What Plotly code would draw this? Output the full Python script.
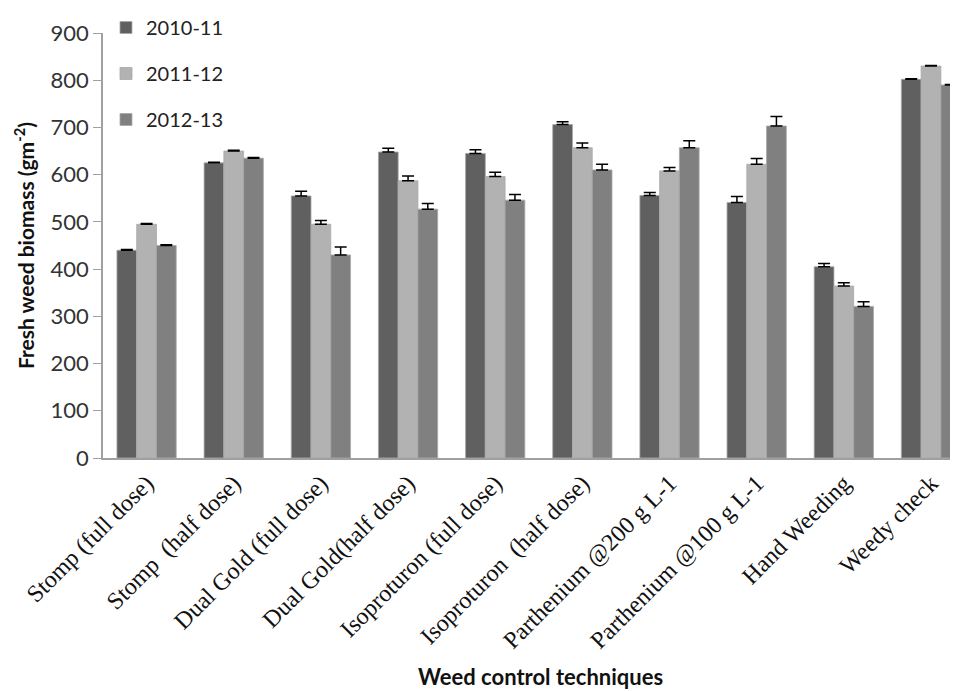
import plotly.graph_objects as go

categories = ["Stomp (full dose)", "Stomp\u00a0 (half dose)", "Dual Gold (full dose)",
              "Dual Gold(half dose)", "Isoproturon (full dose)", "Isoproturon\u00a0 (half dose)",
              "Parthenium @200 g L-1", "Parthenium @100 g L-1", "Hand Weeding", "Weedy check"]

series_names = ["2010-11", "2011-12", "2012-13"]
vals_2010 = [440, 625, 555, 648, 645, 706, 556, 541, 405, 802]
vals_2011 = [495, 650, 495, 587, 596, 657, 608, 622, 364, 830]
vals_2012 = [450, 635, 430, 527, 546, 610, 657, 703, 321, 790]
err_2010 = [1.5, 1.5, 10, 8, 8, 6, 6, 13, 7, 1]
err_2011 = [1.5, 1.5, 8, 10, 9, 10, 7, 12, 7, 1]
err_2012 = [1.5, 1.5, 17, 12, 12, 12, 15, 20, 10, 1]
colors = ["#606060", "#b2b2b2", "#808080"]

y_ticks = [0, 100, 200, 300, 400, 500, 600, 700, 800, 900]

x_title = "Weed control techniques"
y_title = "Fresh weed biomass (gm<sup>-2</sup>)"

fig = go.Figure()
for i, (name, vals, errs) in enumerate(zip(series_names, [vals_2010, vals_2011, vals_2012],
                                            [err_2010, err_2011, err_2012])):
    fig.add_trace(go.Bar(
        x=categories, y=vals, name=name, legendgroup=name,
        marker=dict(color=colors[i], line=dict(color="#a8a8a8", width=0.8)),
        error_y=dict(type="data", array=errs, arrayminus=[0]*len(errs), symmetric=False,
                     color="black", thickness=1.5, width=6),
    ))

# the page body adds an 8px offset; the figure is sized so the visible page is 958x691
fig.update_layout(
    width=950, height=683,
    margin=dict(l=95, r=0, t=25, b=233),
    paper_bgcolor="white", plot_bgcolor="white",
    barmode="group", bargap=0.32, bargroupgap=0,
    font=dict(family="Lato", color="#222"),
    legend=dict(x=0.0035, y=1 + 25 / 425, xanchor="left", yanchor="top",
                font=dict(family="Lato", size=20, color="#222"),
                tracegroupgap=17, bgcolor="rgba(0,0,0,0)"),
    xaxis=dict(range=[-0.5, 9.31], showline=True, linecolor="#a0a0a0", linewidth=1.5,
               ticks="", tickangle=-45, automargin=False,
               tickfont=dict(family="Liberation Serif", size=24, color="#111")),
    yaxis=dict(range=[0, 900], tickvals=y_ticks, showline=True, linecolor="#a0a0a0",
               linewidth=1.5, ticks="outside", ticklen=8, tickcolor="#a0a0a0",
               showgrid=False, zeroline=False, automargin=False,
               tickfont=dict(family="Lato", size=22, color="#333")),
    annotations=[
        dict(text="<b>" + x_title + "</b>", xref="paper", yref="paper",
             x=(540 - 103) / 855, y=(458 - 676) / 425, xanchor="center", yanchor="middle",
             showarrow=False, font=dict(family="Lato", size=22, color="#111")),
        dict(text="<b>" + y_title + "</b>", xref="paper", yref="paper",
             x=(24 - 103) / 855, y=(458 - 246) / 425, xanchor="center", yanchor="middle",
             textangle=-90, showarrow=False, font=dict(family="Lato", size=21, color="#111")),
    ],
)

fig.write_html("out.html")
